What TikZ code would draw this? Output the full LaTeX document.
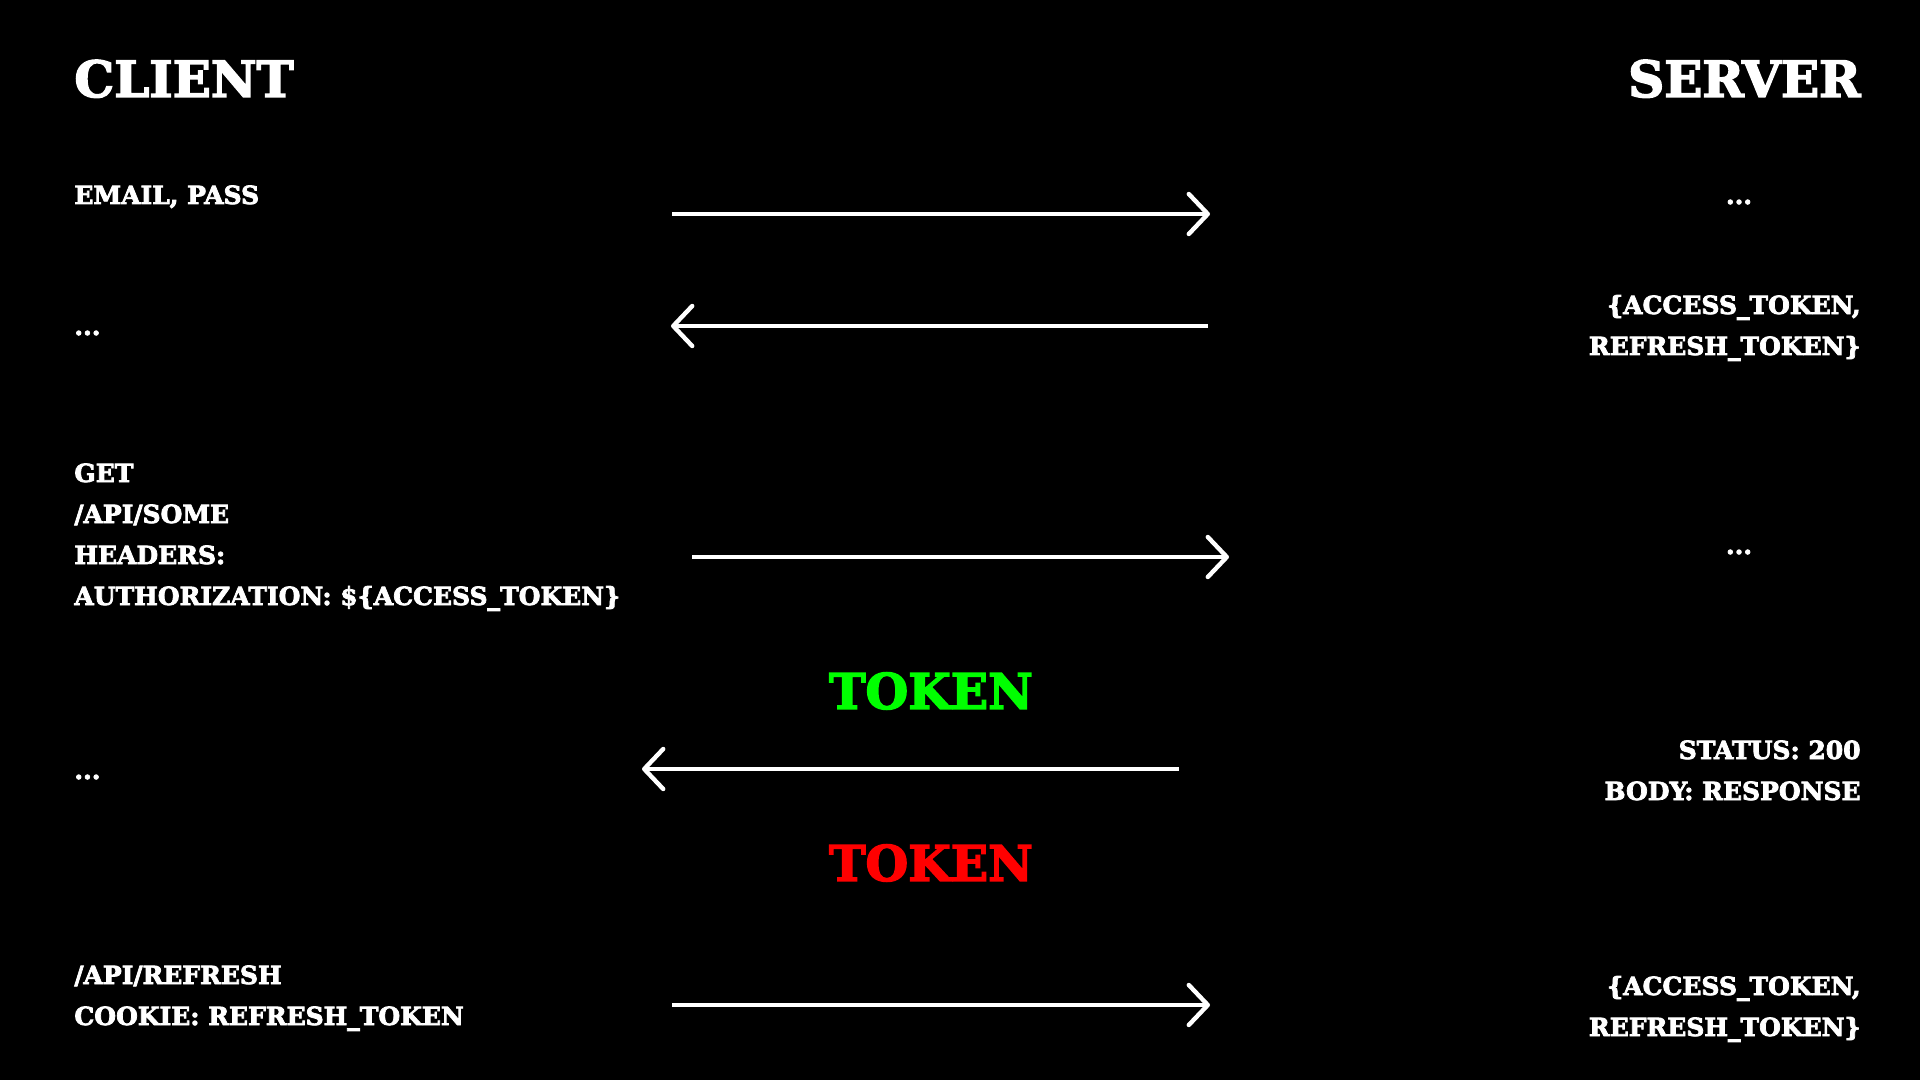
\documentclass[tikz,border=0pt]{standalone}
\usepackage{fontspec}
\setmainfont{DejaVu Serif}[BoldFeatures={FakeBold=3}]
\usetikzlibrary{arrows.meta}
\definecolor{okgreen}{RGB}{0,255,0}
\definecolor{badred}{RGB}{255,0,0}

\begin{document}
\begin{tikzpicture}[x=0.5pt,y=-0.5pt,
	side/.style={text=white,inner sep=0pt,font=\bfseries\fontsize{25}{30}\selectfont},
	txt/.style={text=white,inner sep=0pt,align=left,font=\bfseries\fontsize{12.5}{20.5}\selectfont},
	tok/.style={inner sep=0pt,font=\bfseries\fontsize{24.5}{30}\selectfont},
	msg/.style={white,line width=2.2pt,-{Straight Barb[length=9.5pt,width=20pt,round]}}]
\fill[black] (0,0) rectangle (1920,1080);
\node[side,anchor=base west] (client) at (74,97) {CLIENT};
\node[side,anchor=base east] (server) at (1861,97) {SERVER};
% login
\node[txt,anchor=base west] (login) at (74,204) {EMAIL, PASS};
\node[txt,anchor=base] (srv1) at (1739,204) {...};
\coordinate (l1) at (672,214); \coordinate (r1) at (1210,214);
\draw[msg] (l1) -- (r1);
\node[txt,anchor=base west] (cl2) at (74,335) {...};
\node[txt,anchor=base east,align=right] (tokens) at (1861,355) {\{ACCESS\_TOKEN,\\REFRESH\_TOKEN\}};
\coordinate (l2) at (671,326); \coordinate (r2) at (1208,326);
\draw[msg] (r2) -- (l2);
% request
\node[txt,anchor=base west] (req) at (74,605) {GET\\/API/SOME\\HEADERS:\\AUTHORIZATION: \$\{ACCESS\_TOKEN\}};
\node[txt,anchor=base] (srv3) at (1739,554) {...};
\coordinate (l3) at (692,557); \coordinate (r3) at (1229,557);
\draw[msg] (l3) -- (r3);
\node[tok,text=okgreen] (good) at (931,691) {TOKEN};
\node[txt,anchor=base west] (cl4) at (74,779) {...};
\node[txt,anchor=base east,align=right] (resp) at (1861,800) {STATUS: 200\\BODY: RESPONSE};
\coordinate (l4) at (642,769); \coordinate (r4) at (1179,769);
\draw[msg] (r4) -- (l4);
\node[tok,text=badred] (bad) at (931,863) {TOKEN};
% refresh
\node[txt,anchor=base west] (refr) at (74,1025) {/API/REFRESH\\COOKIE: REFRESH\_TOKEN};
\node[txt,anchor=base east,align=right] (tokens2) at (1861,1036) {\{ACCESS\_TOKEN,\\REFRESH\_TOKEN\}};
\coordinate (l5) at (672,1005); \coordinate (r5) at (1210,1005);
\draw[msg] (l5) -- (r5);
\end{tikzpicture}
\end{document}
